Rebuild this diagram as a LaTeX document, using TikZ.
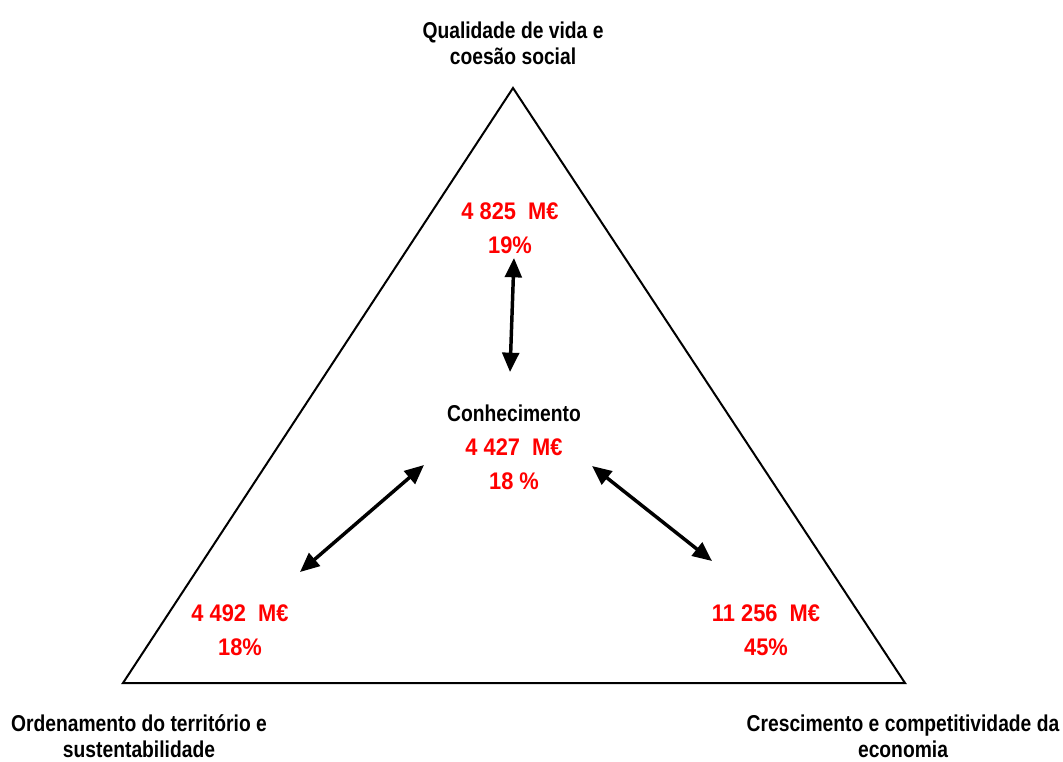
\documentclass[tikz,border=0pt]{standalone}
\usepackage{fontspec}
\setmainfont{Liberation Sans}
\newfontfamily\lblfont[FakeStretch=0.84]{Liberation Sans Bold}
\newfontfamily\valfont[FakeStretch=0.91]{Liberation Sans Bold}
\usetikzlibrary{arrows.meta}
\definecolor{valred}{RGB}{255,0,0}

\tikzset{
  lbl/.style={align=center, anchor=base, inner sep=0pt,
    font=\lblfont\fontsize{17.2}{19.5}\selectfont},
  val/.style={align=center, anchor=base, inner sep=0pt, text=valred,
    font=\valfont\fontsize{18}{25.5}\selectfont},
  link/.style={{Triangle[length=14.5pt,width=12.5pt]}-{Triangle[length=14.5pt,width=12.5pt]},
    line width=2.6pt},
}

\begin{document}
\begin{tikzpicture}[x=0.75pt,y=-0.75pt]
    \useasboundingbox (0,0) rectangle (1063,761);

    % triangle
    \coordinate (ctop) at (513,88);
    \coordinate (cleft) at (123,683);
    \coordinate (cright) at (905,683);
    \draw[line width=1.5pt, line join=miter] (ctop) -- (cleft) -- (cright) -- cycle;

    % corner labels (placed on their last line)
    \node[lbl] (qual) at (513,64) {Qualidade de vida e\\coesão social};
    \node[lbl] (orden) at (139,757) {Ordenamento do território e\\sustentabilidade};
    \node[lbl] (cresc) at (903,757) {Crescimento e competitividade da\\economia};

    % values
    \node[val] (qualval) at (510,253) {4 825\ \ M€\\19\%};
    \node[val] (conh) at (514,489)
        {{\color{black}\lblfont\fontsize{17.2}{25.5}\selectfont Conhecimento}\\4 427\ \ M€\\18 \%};
    \node[val] (ordenval) at (240,655) {4 492\ \ M€\\18\%};
    \node[val] (crescval) at (766,655) {11 256\ \ M€\\45\%};

    % arrow ends
    \coordinate (qualend) at (514,258);
    \coordinate (conhup) at (510,372);
    \coordinate (conhleft) at (424,465);
    \coordinate (ordenend) at (300,572);
    \coordinate (conhright) at (592,466);
    \coordinate (crescend) at (712,561);

    \draw[link] (qualend) -- (conhup);
    \draw[link] (conhleft) -- (ordenend);
    \draw[link] (conhright) -- (crescend);

\end{tikzpicture}
\end{document}
